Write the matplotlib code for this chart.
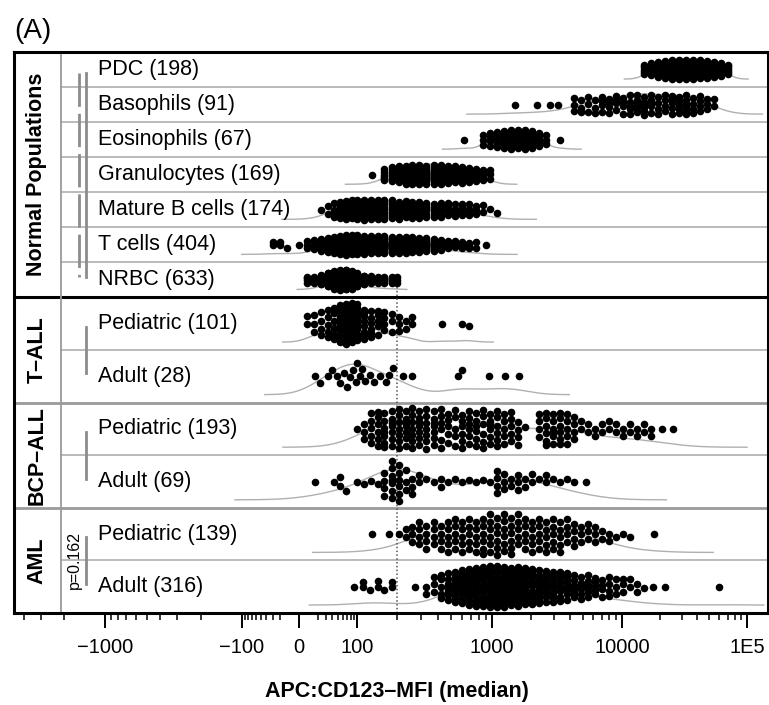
import numpy as np
import matplotlib
matplotlib.use("Agg")
import matplotlib.pyplot as plt
import matplotlib.transforms as mtransforms
from matplotlib.ticker import FixedLocator, FixedFormatter

plt.rcParams['font.family'] = ['Liberation Sans', 'DejaVu Sans']

# ---- data: MFI values (value, number of cases) ----
pdc_vals = [15000, 17100, 19500, 22200, 25200, 28700, 32700, 37200, 42300, 48200, 54800, 62400, 71000]
pdc_n = [5, 9, 13, 17, 22, 24, 23, 21, 19, 16, 13, 10, 6]

baso_vals = [1500, 2200, 2800, 3200, 4270, 4830, 5470, 6190, 7010, 7940, 8990, 10200, 11600,
             13200, 15000, 17100, 19500, 22200, 25200, 28700, 32700, 37200, 42300, 48200, 54800]
baso_n = [1, 1, 1, 1, 3, 3, 3, 3, 4, 4, 4, 4, 5, 6, 6, 5, 4, 4, 5, 5, 6, 4, 4, 3, 2]

eos_vals = [620, 860, 970, 1090, 1235, 1400, 1580, 1790, 2030, 2300, 2600, 3330]
eos_n = [1, 3, 4, 5, 7, 9, 11, 10, 8, 5, 3, 1]

gran_vals = [130, 161, 182, 205, 231, 260, 293, 330, 372, 420, 473, 533, 600, 677, 763, 860, 970]
gran_n = [1, 6, 8, 10, 12, 14, 15, 15, 15, 14, 13, 12, 10, 9, 7, 5, 3]

bcell_vals = [24, 33, 43, 55, 68, 83, 100, 113, 127, 143, 161, 182, 205, 231, 260, 293, 330,
              372, 420, 473, 533, 600, 677, 763, 860, 970, 1090]
bcell_n = [1, 2, 4, 7, 9, 10, 11, 11, 11, 10, 10, 10, 9, 9, 8, 8, 7, 6, 6, 5, 5, 4, 4, 3, 2, 1, 1]

tcell_vals = [-30, -20, -12, 0, 8, 16, 24, 33, 43, 55, 68, 83, 100, 113, 127, 143, 161, 182,
              205, 231, 260, 293, 330, 372, 420, 473, 533, 600, 677, 763, 900]
tcell_n = [2, 2, 1, 1, 3, 5, 8, 12, 18, 24, 28, 28, 28, 27, 25, 24, 22, 21, 20, 19, 18, 16,
           13, 10, 8, 6, 5, 4, 3, 2, 1]

nrbc_vals = [8, 16, 24, 33, 43, 55, 68, 83, 100, 113, 127, 143, 161, 182, 200]
nrbc_n = [4, 10, 25, 60, 100, 120, 115, 90, 45, 25, 15, 10, 7, 4, 3]

tall_ped_vals = [8, 16, 24, 33, 43, 55, 68, 83, 100, 113, 127, 143, 161, 182, 205, 231, 260,
                 430, 600, 677]
tall_ped_n = [2, 3, 4, 5, 6, 9, 12, 13, 11, 8, 6, 5, 4, 3, 3, 2, 2, 1, 1, 1]

tall_ad_vals = [17, 22, 33, 40, 48, 55, 62, 70, 78, 88, 95, 100, 105, 110, 115, 125, 135, 150,
                165, 175, 185, 220, 260, 560, 600, 950, 1250, 1600]
tall_ad_n = [1] * len(tall_ad_vals)

bcp_ped_vals = [100, 113, 127, 143, 161, 182, 205, 231, 260, 293, 330, 372, 420, 473, 533, 600,
                677, 763, 860, 970, 1090, 1235, 1400, 1580, 1790, 2300, 2600, 2940, 3330, 3770,
                4270, 4830, 5470, 6190, 7010, 7940, 8990, 10200, 11600, 13200, 15000, 17100,
                21000, 25600]
bcp_ped_n = [1, 3, 5, 6, 7, 7, 7, 7, 7, 7, 7, 7, 6, 5, 5, 6, 6, 6, 6, 6, 6, 5, 5, 4, 1, 4, 6,
             6, 6, 5, 4, 2, 2, 2, 2, 2, 2, 2, 2, 2, 2, 2, 1, 1]

bcp_ad_vals = [17, 43, 55, 68, 100, 113, 127, 143, 161, 182, 205, 231, 260, 293, 330, 372, 420,
               473, 533, 600, 677, 763, 860, 970, 1090, 1235, 1400, 1580, 1790, 2030, 2300,
               2600, 2940, 3330, 3770, 4270, 5300]
bcp_ad_n = [1, 1, 2, 1, 1, 1, 1, 1, 4, 7, 6, 3, 3, 2, 1, 1, 2, 1, 1, 1, 1, 1, 1, 1, 4, 3, 2,
            3, 2, 2, 1, 2, 1, 1, 1, 1, 1]

aml_ped_vals = [130, 175, 205, 231, 260, 293, 330, 372, 420, 473, 533, 600, 677, 763, 860, 970,
                1090, 1235, 1400, 1580, 1790, 2030, 2300, 2600, 2940, 3330, 3770, 4270, 4830,
                5470, 6190, 7010, 7940, 8990, 10200, 11600, 18000]
aml_ped_n = [1, 1, 1, 2, 3, 4, 4, 4, 4, 5, 5, 5, 5, 5, 6, 6, 6, 6, 6, 5, 5, 5, 5, 5, 5, 5, 4,
             4, 3, 3, 3, 2, 2, 1, 1, 1, 1]

aml_ad_vals = [90, 111, 125, 143, 161, 182, 270, 330, 372, 420, 473, 533, 600, 677, 763, 860,
               970, 1090, 1235, 1400, 1580, 1790, 2030, 2300, 2600, 2940, 3330, 3770, 4270,
               4830, 5470, 6190, 7010, 7940, 8990, 10200, 11600, 13200, 15000, 17700, 22000,
               60000]
aml_ad_n = [1, 2, 1, 2, 1, 2, 1, 2, 3, 5, 7, 10, 13, 15, 17, 18, 19, 19, 19, 18, 17, 15, 13,
            12, 11, 10, 9, 8, 7, 6, 6, 5, 4, 4, 3, 3, 2, 2, 1, 1, 1, 1]

row_labels = ['PDC (198)', 'Basophils (91)', 'Eosinophils (67)', 'Granulocytes (169)',
              'Mature B cells (174)', 'T cells (404)', 'NRBC (633)',
              'Pediatric (101)', 'Adult (28)', 'Pediatric (193)', 'Adult (69)',
              'Pediatric (139)', 'Adult (316)']
row_data = [(pdc_vals, pdc_n), (baso_vals, baso_n), (eos_vals, eos_n), (gran_vals, gran_n),
            (bcell_vals, bcell_n), (tcell_vals, tcell_n), (nrbc_vals, nrbc_n),
            (tall_ped_vals, tall_ped_n), (tall_ad_vals, tall_ad_n),
            (bcp_ped_vals, bcp_ped_n), (bcp_ad_vals, bcp_ad_n),
            (aml_ped_vals, aml_ped_n), (aml_ad_vals, aml_ad_n)]
group_labels = ['Normal Populations', 'T\u2013ALL', 'BCP\u2013ALL', 'AML']
group_sizes = [7, 2, 2, 2]
threshold = 200

tick_vals = [-1000, -100, 0, 100, 1000, 10000, 100000]
tick_text = ['\u22121000', '\u2212100', '0', '100', '1000', '10000', '1E5']

# ---- biexponential-like x scale (asinh, pinned to the decade positions) ----
C = 30.0
anchor_vals = np.array([-1e5, -1e4, -1000, -100, 0, 100, 1000, 1e4, 1e5, 1e6])
anchor_pix = np.array([-165, -30, 105, 242, 299, 357, 492, 622, 747, 872], dtype=float)
anchor_u = np.arcsinh(anchor_vals / C)


def fwd(v):
    return np.interp(np.arcsinh(np.asarray(v, dtype=float) / C), anchor_u, anchor_pix)


def inv(p):
    return C * np.sinh(np.interp(np.asarray(p, dtype=float), anchor_pix, anchor_u))


def swarm(p, lim, dmin=7.5):
    """beeswarm offsets (pixels) for x positions p, each bounded by lim"""
    order = np.argsort(p, kind='stable')
    ys = np.zeros(len(p))
    px_done, py_done = [], []
    for i in order:
        L = lim[i]
        cand = np.arange(-L, L + 0.01, 0.5)
        cand = cand[np.argsort(np.abs(cand), kind='stable')]
        y = 0.0
        if px_done:
            ax_ = np.array(px_done)
            ay_ = np.array(py_done)
            near = np.abs(ax_ - p[i]) < dmin
            if near.any():
                dx = ax_[near] - p[i]
                dy = ay_[near][None, :] - cand[:, None]
                md = np.sqrt(dx[None, :] ** 2 + dy ** 2).min(1)
                ok = np.where(md >= dmin)[0]
                y = cand[ok[0]] if len(ok) else cand[np.argmax(md)]
        ys[i] = y
        px_done.append(p[i])
        py_done.append(y)
    return ys


# ---- layout ----
W, H = 769, 705
AX_L, AX_R, AX_T, AX_B = 14, 768, 52, 613
heights = np.array([1.0] * 7 + [1.5] * 6)
bottoms = np.cumsum(heights)
tops = bottoms - heights
centers = (tops + bottoms) / 2
total = bottoms[-1]
PX = (AX_B - AX_T) / total  # pixels per y unit


def xf(px):
    return (px - AX_L) / (AX_R - AX_L)


fig = plt.figure(figsize=(W / 100, H / 100), dpi=100)
ax = fig.add_axes([AX_L / W, 1 - AX_B / H, (AX_R - AX_L) / W, (AX_B - AX_T) / H])
ax.set_xscale('function', functions=(fwd, inv))
ax.set_xlim(inv(AX_L), inv(AX_R))
ax.set_ylim(total, 0)
bl = mtransforms.blended_transform_factory(ax.transAxes, ax.transData)

# rows: density curve + swarm of points
for i, (vals, cnts) in enumerate(row_data):
    v = np.repeat(np.array(vals, dtype=float), cnts)
    p = fwd(v)
    n = len(p)
    sd = p.std(ddof=1)
    q75, q25 = np.percentile(p, [75, 25])
    spread = min(sd, (q75 - q25) / 1.34) if q75 > q25 else sd
    bw = 0.9 * spread * n ** -0.2
    grid = np.linspace(p.min() - 3 * bw, p.max() + 3 * bw, 500)
    dens = np.exp(-0.5 * ((grid[:, None] - p[None, :]) / bw) ** 2).sum(1)
    dmax = dens.max()
    h = heights[i]
    base = bottoms[i] - 8 / PX
    ax.plot(inv(grid), base - 0.58 * h * dens / dmax, color='#b0b0b0', lw=1.0, zorder=1)

    hmax = 10.0 if h == 1 else 20.5
    dp = np.exp(-0.5 * ((p[:, None] - p[None, :]) / bw) ** 2).sum(1)
    lim = np.maximum(hmax * np.sqrt(dp / dmax), 3.0)
    ys = swarm(p, lim)
    ax.scatter(v, centers[i] + ys / PX, s=30, c='black', marker='o', linewidths=0, zorder=3)

    ax.text(xf(98), centers[i], row_labels[i], transform=bl, ha='left', va='center',
            fontsize=15.5, zorder=4)

# grid lines between rows and groups
group_ends = np.cumsum(group_sizes)
for j in range(len(heights) - 1):
    y = bottoms[j]
    if j + 1 == group_ends[0]:
        ax.plot([0, 1], [y, y], transform=bl, color='black', lw=2.2, zorder=2)
    elif j + 1 in group_ends:
        ax.plot([0, 1], [y, y], transform=bl, color='#9a9a9a', lw=2.0, zorder=2)
    else:
        ax.plot([xf(61), 1], [y, y], transform=bl, color='#b5b5b5', lw=1.3, zorder=2)
ax.plot([xf(61), xf(61)], [0, total], transform=bl, color='#9a9a9a', lw=1.3, zorder=2)

# group labels and brackets
start = 0
for g, size in enumerate(group_sizes):
    first, last = start, start + size - 1
    gc = (tops[first] + bottoms[last]) / 2
    ax.text(xf(37), gc, group_labels[g], transform=bl, rotation=90, ha='center',
            va='center', fontsize=15.5, fontweight='bold')
    y0, y1 = centers[first] + 3 / PX, centers[last] - 3 / PX
    ax.plot([xf(86), xf(86)], [y0, y1], transform=bl, color='#8c8c8c', lw=2.0, zorder=2)
    if g == 0:
        ax.plot([xf(79), xf(79)], [y0, y1], transform=bl, color='#8c8c8c', lw=2.0,
                dashes=(12, 2.5), zorder=2)
    if g == 3:
        ax.text(xf(74), gc, 'p=0.162', transform=bl, rotation=90, ha='center',
                va='center', fontsize=11.5)
    start += size

# threshold line
ax.plot([threshold, threshold], [bottoms[6] - 10 / PX, total], color='#555555', lw=1.1,
        ls=(0, (1, 1.5)), zorder=2)

# axis ticks
minor = []
for m in range(2, 10):
    for d in (10, 100, 1000, 10000):
        minor += [m * d, -m * d]
ax.xaxis.set_major_locator(FixedLocator(tick_vals))
ax.xaxis.set_major_formatter(FixedFormatter(tick_text))
ax.xaxis.set_minor_locator(FixedLocator(sorted(minor)))
ax.tick_params(axis='x', which='major', length=11, width=1.4, labelsize=14.5, pad=7)
ax.tick_params(axis='x', which='minor', length=5, width=1.1)
ax.set_yticks([])
for s in ax.spines.values():
    s.set_linewidth(2.2)

fig.text(397 / W, 1 - 692 / H, 'APC:CD123\u2013MFI (median)', ha='center', va='center',
         fontsize=15.5, fontweight='bold')
fig.text(14 / W, 1 - 31 / H, '(A)', ha='left', va='center', fontsize=20)

fig.savefig('out.png', dpi=100)
